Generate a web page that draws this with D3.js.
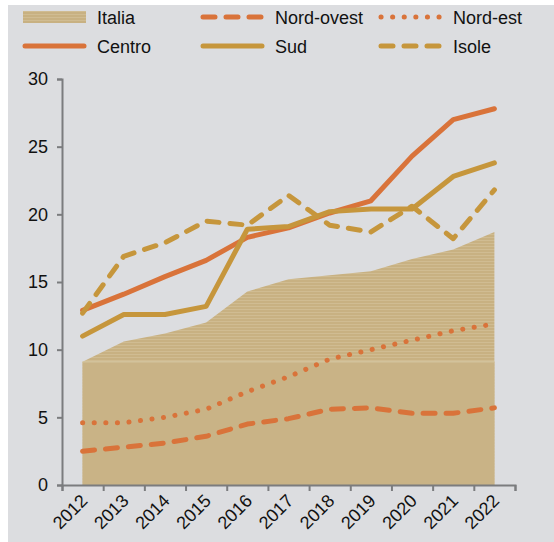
<!DOCTYPE html>
<html>
<head>
<meta charset="utf-8">
<script src="https://cdn.jsdelivr.net/npm/d3@7"></script>
<style>
  body { margin: 0; background: #fff; }
  text { font-family: "Liberation Sans", Arial, sans-serif; }
</style>
</head>
<body>
<div id="chart"></div>
<script>
// data
var years = ["2012","2013","2014","2015","2016","2017","2018","2019","2020","2021","2022"];
var italia    = [9.1, 10.6, 11.2, 12.0, 14.3, 15.2, 15.5, 15.8, 16.7, 17.4, 18.7];
var nordOvest = [2.5, 2.8, 3.1, 3.6, 4.5, 4.9, 5.6, 5.7, 5.3, 5.3, 5.7];
var nordEst   = [4.6, 4.6, 5.0, 5.6, 6.9, 8.0, 9.3, 10.0, 10.7, 11.4, 11.9];
var centro    = [12.9, 14.1, 15.4, 16.6, 18.3, 19.0, 20.1, 21.0, 24.3, 27.0, 27.8];
var sud       = [11.0, 12.6, 12.6, 13.2, 18.9, 19.1, 20.2, 20.4, 20.4, 22.8, 23.8];
var isole     = [12.7, 16.9, 17.9, 19.5, 19.2, 21.4, 19.2, 18.7, 20.6, 18.2, 21.8];
var yTicks = [0, 5, 10, 15, 20, 25, 30];

var W = 554, H = 542;
var orange = "#d9733a", gold = "#c6963c", tan = "#c9b386";
var margin = {top: 79, right: 39, bottom: 57, left: 62};
var dashed = "12,11", dotted = "0.1,11.5";

var svg = d3.select("#chart").append("svg")
    .attr("width", W)
    .attr("height", H);

// gray panel
svg.append("rect")
    .attr("x", 8).attr("y", 5)
    .attr("width", W - 8).attr("height", H - 5)
    .attr("fill", "#dcdde0");

// striped fill for the Italia area
var defs = svg.append("defs");
var pat = defs.append("pattern")
    .attr("id", "stripes")
    .attr("patternUnits", "userSpaceOnUse")
    .attr("width", 4).attr("height", 3);
pat.append("rect").attr("width", 4).attr("height", 3).attr("fill", "#c8b182");
pat.append("rect").attr("width", 4).attr("height", 1).attr("fill", "#d0bc92");

var x = d3.scaleBand()
    .domain(years)
    .range([margin.left, W - margin.right]);
var xEdge = d3.scaleLinear()
    .domain([0, years.length])
    .range([margin.left, W - margin.right]);
var y = d3.scaleLinear()
    .domain([0, 30])
    .range([H - margin.bottom, margin.top]);

function cx(d, i) { return x(years[i]) + x.bandwidth() / 2; }

// Italia area: striped upper part, plain base below the first value
var area = d3.area()
    .x(cx)
    .y0(y(0))
    .y1(function(d) { return y(d); });
svg.append("path")
    .datum(italia)
    .attr("d", area)
    .attr("fill", "url(#stripes)");
svg.append("rect")
    .attr("x", cx(0, 0))
    .attr("y", y(italia[0]))
    .attr("width", cx(0, years.length - 1) - cx(0, 0))
    .attr("height", y(0) - y(italia[0]))
    .attr("fill", tan);
svg.append("line")
    .attr("x1", cx(0, 0)).attr("x2", cx(0, years.length - 1))
    .attr("y1", y(italia[0])).attr("y2", y(italia[0]))
    .attr("stroke", "#d8cba8").attr("stroke-width", 1);

// axes
var yAxis = svg.append("g")
    .attr("transform", "translate(" + margin.left + ",0)")
    .call(d3.axisLeft(y).tickValues(yTicks).tickSize(5).tickPadding(9));
var xAxis = svg.append("g")
    .attr("transform", "translate(0," + y(0) + ")")
    .call(d3.axisBottom(xEdge).tickValues(d3.range(years.length + 1)).tickFormat("").tickSize(6));
[yAxis, xAxis].forEach(function(g) {
  g.select(".domain").attr("stroke", "#7b7c7e").attr("stroke-width", 2);
  g.selectAll(".tick line").attr("stroke", "#7b7c7e").attr("stroke-width", 2);
});
yAxis.selectAll("text")
    .attr("font-size", 18).attr("fill", "#111");

svg.selectAll("xLabels")
    .data(years)
    .enter()
    .append("text")
      .attr("transform", function(d, i) {
        return "translate(" + (cx(d, i) + 6) + "," + (y(0) + 17) + ") rotate(-45)";
      })
      .attr("text-anchor", "end")
      .attr("font-size", 18)
      .attr("fill", "#111")
      .text(function(d) { return d; });

// lines
var line = d3.line()
    .x(cx)
    .y(function(d) { return y(d); });

var series = [
  {name: "Nord-ovest", values: nordOvest, color: orange, dash: dashed},
  {name: "Nord-est",   values: nordEst,   color: orange, dash: dotted, width: 5},
  {name: "Centro",     values: centro,    color: orange, dash: null},
  {name: "Sud",        values: sud,       color: gold,   dash: null},
  {name: "Isole",      values: isole,     color: gold,   dash: dashed}
];
series.forEach(function(s) {
  svg.append("path")
      .datum(s.values)
      .attr("d", line)
      .attr("fill", "none")
      .attr("stroke", s.color)
      .attr("stroke-width", s.width || 5)
      .attr("stroke-linecap", "round")
      .attr("stroke-linejoin", "round")
      .attr("stroke-dasharray", s.dash);
});

// legend
var legend = [
  {name: "Italia",     col: 0, row: 0, color: null},
  {name: "Nord-ovest", col: 1, row: 0, color: orange, dash: dashed},
  {name: "Nord-est",   col: 2, row: 0, color: orange, dash: dotted, width: 5},
  {name: "Centro",     col: 0, row: 1, color: orange, dash: null},
  {name: "Sud",        col: 1, row: 1, color: gold,   dash: null},
  {name: "Isole",      col: 2, row: 1, color: gold,   dash: dashed}
];
var legX = [23, 201, 379], legY = [17, 46];
var lg = svg.selectAll(".legend")
    .data(legend)
    .enter()
    .append("g")
      .attr("class", "legend")
      .attr("transform", function(d) { return "translate(" + legX[d.col] + "," + legY[d.row] + ")"; });
lg.each(function(d) {
  var g = d3.select(this);
  if (d.color === null) {
    g.append("rect")
        .attr("x", 0).attr("y", -6)
        .attr("width", 63).attr("height", 12)
        .attr("fill", "url(#stripes)");
  } else {
    g.append("line")
        .attr("x1", 2).attr("x2", 61)
        .attr("y1", 0).attr("y2", 0)
        .attr("stroke", d.color)
        .attr("stroke-width", d.width || 5)
        .attr("stroke-linecap", "round")
        .attr("stroke-dasharray", d.dash);
  }
  g.append("text")
      .attr("x", 74)
      .attr("y", 6.5)
      .attr("font-size", 18)
      .attr("fill", "#111")
      .text(d.name);
});
</script>
</body>
</html>
